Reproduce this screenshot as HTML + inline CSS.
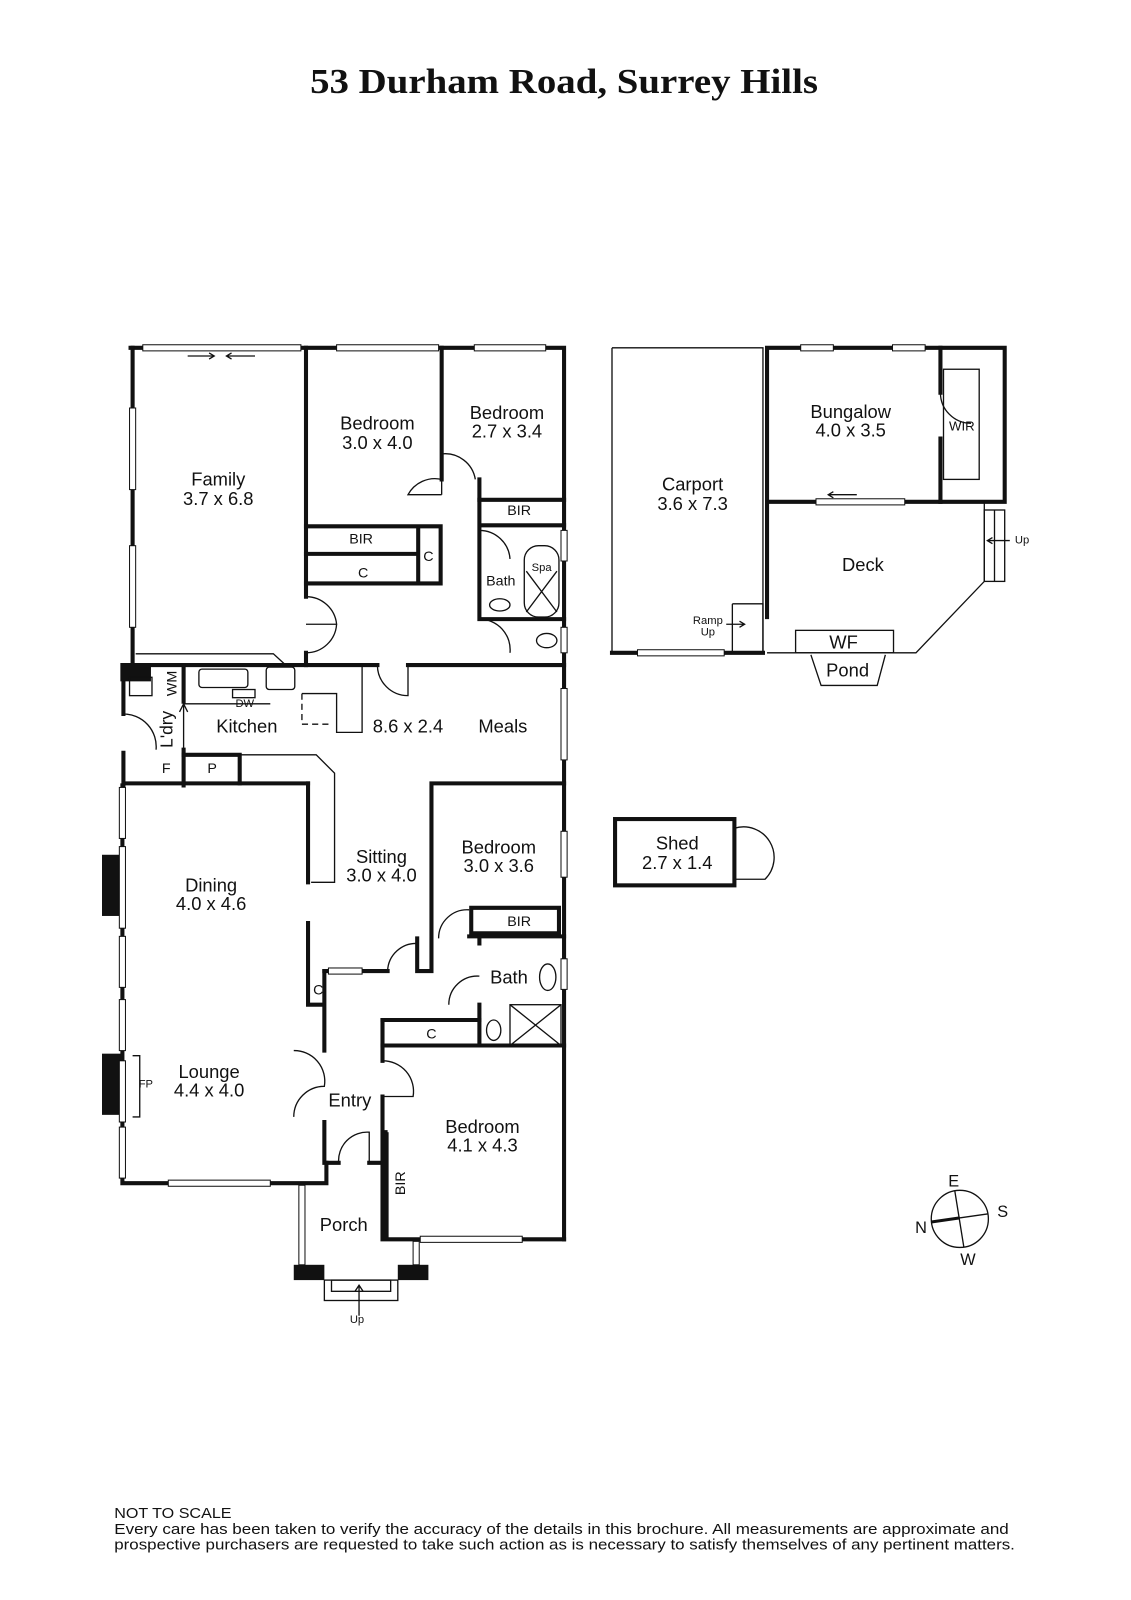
<!DOCTYPE html>
<html><head><meta charset="utf-8"><style>
html,body{margin:0;padding:0;background:#fff}
svg{display:block}
.t{font-family:"Liberation Sans",sans-serif;fill:#111;text-anchor:middle}
</style></head><body>
<svg width="1131" height="1600" viewBox="0 0 1131 1600" xmlns="http://www.w3.org/2000/svg">
<rect width="1131" height="1600" fill="#fff"/>
<g transform="scale(1.02)">
<text x="553" y="91" font-family="Liberation Serif,serif" font-weight="bold" font-size="34" text-anchor="middle" fill="#111" textLength="498" lengthAdjust="spacingAndGlyphs">53 Durham Road, Surrey Hills</text>

<g fill="none" stroke="#111" stroke-width="4" stroke-linecap="square">
<path d="M128,341 H553 V1215"/>
<path d="M130,341 V650"/>
<path d="M121,652 V700 M121,738 V770 M121,768 H302"/>
<path d="M148,652 H370 M400,652 H553"/>
<path d="M300,341 V585 M300,640 V652"/>
<path d="M433,341 V470"/>
<path d="M470,470 V607 H553 M470,515 H553"/>
<path d="M470,490 H553"/>
<path d="M300,516 H432 V572 H300 M300,543 H410 M410,516 V572"/>
<path d="M180,652 V688 M180,735 V770"/>
<path d="M180,740 H235 V768"/>
<path d="M302,768 V865 M302,905 V985 H318 M318,952 V1030 M318,1100 V1140 H332 M362,1140 H375"/>
<path d="M120,770 V1160 H320 V1140"/>
<path d="M423,768 H553 M423,768 V952 H409 V920"/>
<path d="M318,952 H380"/>
<path d="M460,918 H553 M462,890 H548 V915 H462 Z"/>
<path d="M470,918 V925 M470,985 V1025"/>
<path d="M375,1025 H553 M375,1000 H470"/>
<path d="M375,1000 V1040 M375,1075 V1215 H553"/>
<path d="M378,1110 V1210"/>
<path d="M752,341 H985 V492 H752 Z"/>
<path d="M752,492 V605"/>
<path d="M922,341 V385 M922,430 V492"/>
<path d="M600,640 H748"/>
</g>
<g fill="#111">
<rect x="118" y="650" width="30" height="18"/>
<rect x="100" y="838" width="20" height="60"/>
<rect x="100" y="1033" width="20" height="60"/>
<rect x="288" y="1240" width="30" height="15"/>
<rect x="390" y="1240" width="30" height="15"/>
<rect x="375" y="1110" width="6" height="105"/>
</g>
<g fill="#fff" stroke="#111" stroke-width="1">
<rect x="140" y="338" width="155" height="6"/>
<rect x="330" y="338" width="100" height="6"/>
<rect x="465" y="338" width="70" height="6"/>
<rect x="127" y="400" width="6" height="80"/>
<rect x="127" y="535" width="6" height="80"/>
<rect x="550" y="520" width="6" height="30"/>
<rect x="550" y="615" width="6" height="25"/>
<rect x="550" y="675" width="6" height="70"/>
<rect x="550" y="815" width="6" height="45"/>
<rect x="550" y="940" width="6" height="30"/>
<rect x="117" y="772" width="6" height="50"/>
<rect x="117" y="830" width="6" height="80"/>
<rect x="117" y="918" width="6" height="50"/>
<rect x="117" y="980" width="6" height="50"/>
<rect x="117" y="1040" width="6" height="60"/>
<rect x="117" y="1105" width="6" height="50"/>
<rect x="165" y="1157" width="100" height="6"/>
<rect x="412" y="1212" width="100" height="6"/>
<rect x="322" y="949" width="33" height="6"/>
<rect x="625" y="637" width="85" height="6"/>
<rect x="785" y="338" width="32" height="6"/>
<rect x="875" y="338" width="32" height="6"/>
<rect x="800" y="489" width="87" height="6"/>
<rect x="293" y="1162" width="6" height="78"/>
<rect x="405" y="1217" width="6" height="23"/>
</g>
<g fill="none" stroke="#111" stroke-width="1.3">
<path d="M133,641 H268 L280,652"/>
<path d="M600,341 H748 V640 M600,341 V640"/>
<path d="M718,592 H748 V640 M718,592 V640"/>
<path d="M752,640 H898 L965,570 V492"/>
<rect x="965" y="500" width="20" height="70"/>
<path d="M975,500 V570"/>
<rect x="780" y="618" width="96" height="22"/>
<path d="M795,642 L805,672 H860 L868,642"/>
<rect x="925" y="362" width="35" height="108"/>
<path d="M236,740 H310 L328,758 V865 H305"/>
<path d="M265,652 H355 V718 H330 V680 H296"/>
<path d="M296,680 V710 H326" stroke-dasharray="6,4"/>
<path d="M180,690 H265"/>
<rect x="195" y="656" width="48" height="18" rx="3"/>
<rect x="261" y="654" width="28" height="22" rx="3"/>
<rect x="228" y="676" width="22" height="8"/>
<rect x="127" y="664" width="22" height="18"/>
<rect x="514" y="535" width="34" height="70" rx="14"/>
<path d="M516,560 L546,600 M546,560 L516,600"/>
<ellipse cx="490" cy="593" rx="10" ry="6"/>
<ellipse cx="536" cy="628" rx="10" ry="7"/>
<ellipse cx="537" cy="958" rx="8" ry="13"/>
<ellipse cx="484" cy="1010" rx="7" ry="10"/>
<rect x="500" y="985" width="50" height="40"/>
<path d="M500,985 L550,1025 M550,985 L500,1025"/>
<rect x="318" y="1255" width="72" height="20"/>
<rect x="325" y="1255" width="58" height="11"/>
<path d="M352,1290 V1260 M348,1266 L352,1260 L356,1266"/>
<path d="M130,1035 H137 V1095 H130"/>
<path d="M300,585 A30,30 0 0 1 330,612 L300,612 M300,640 A30,30 0 0 0 330,612"/>
<path d="M370,652 A30,30 0 0 0 400,682 V652"/>
<path d="M433,485 V445 A30,30 0 0 1 466,470 M433,485 H400 A30,30 0 0 1 433,470"/>
<path d="M470,607 A30,30 0 0 1 500,640 M470,520 A30,30 0 0 1 500,548"/>
<path d="M121,700 A32,32 0 0 1 153,735"/>
<path d="M922,385 A30,30 0 0 0 952,415"/>
<path d="M380,952 A28,28 0 0 1 410,925"/>
<path d="M430,920 A28,28 0 0 1 460,892"/>
<path d="M440,985 A28,28 0 0 1 470,957"/>
<path d="M288,1030 A30,30 0 0 1 318,1065 A30,30 0 0 0 288,1095"/>
<path d="M375,1040 A30,30 0 0 1 405,1075 H375"/>
<path d="M332,1140 A28,28 0 0 1 362,1110 V1140"/>
<path d="M720,812 A30,30 0 0 1 750,862 H720"/>
<path d="M180,735 V690 M176,698 L180,690 L184,698"/>
<path d="M184,349 H210 M205,346 L210,349 L205,352 M250,349 H222 M227,346 L222,349 L227,352"/>
<path d="M840,485 H812 M817,482 L812,485 L817,488"/>
<path d="M712,612 L730,612 M725,609 L730,612 L725,615"/>
<path d="M990,530 H968 M973,527 L968,530 L973,533"/>
<circle cx="941" cy="1195" r="28"/>
<path d="M936,1167 L945,1223 M913,1198 L969,1190"/>
</g>
<rect x="603" y="803" width="117" height="65" fill="none" stroke="#111" stroke-width="4"/>
<path d="M913,1198 L941,1194" stroke="#111" stroke-width="3"/>

<g class="t" font-size="18">
<text x="214" y="476">Family</text><text x="214" y="495">3.7 x 6.8</text>
<text x="370" y="421">Bedroom</text><text x="370" y="440">3.0 x 4.0</text>
<text x="497" y="411">Bedroom</text><text x="497" y="429">2.7 x 3.4</text>
<text x="242" y="718">Kitchen</text>
<text x="400" y="718">8.6 x 2.4</text>
<text x="493" y="718">Meals</text>
<text x="374" y="846">Sitting</text><text x="374" y="864">3.0 x 4.0</text>
<text x="207" y="874">Dining</text><text x="207" y="892">4.0 x 4.6</text>
<text x="489" y="837">Bedroom</text><text x="489" y="855">3.0 x 3.6</text>
<text x="499" y="964">Bath</text>
<text x="205" y="1057">Lounge</text><text x="205" y="1075">4.4 x 4.0</text>
<text x="343" y="1085">Entry</text>
<text x="473" y="1111">Bedroom</text><text x="473" y="1129">4.1 x 4.3</text>
<text x="337" y="1207">Porch</text>
<text x="679" y="481">Carport</text><text x="679" y="500">3.6 x 7.3</text>
<text x="834" y="410">Bungalow</text><text x="834" y="428">4.0 x 3.5</text>
<text x="846" y="560">Deck</text>
<text x="827" y="636">WF</text>
<text x="831" y="663">Pond</text>
<text x="664" y="833">Shed</text><text x="664" y="852">2.7 x 1.4</text>
<text x="935" y="1163" font-size="16">E</text>
<text x="983" y="1193" font-size="16">S</text>
<text x="903" y="1209" font-size="16">N</text>
<text x="949" y="1240" font-size="16">W</text>
</g>
<g class="t" font-size="14">
<text x="354" y="533">BIR</text>
<text x="356" y="566">C</text>
<text x="420" y="550">C</text>
<text x="509" y="505">BIR</text>
<text x="491" y="574">Bath</text>
<text x="509" y="908">BIR</text>
<text x="423" y="1018">C</text>
<text x="312" y="975">C</text>
<text x="208" y="758">P</text>
<text x="163" y="758">F</text>
<text x="943" y="422" font-size="13">WIR</text>
</g>
<g class="t" font-size="11">
<text x="531" y="560">Spa</text>
<text x="240" y="693">DW</text>
<text x="143" y="1066">FP</text>
<text x="694" y="612">Ramp</text><text x="694" y="623">Up</text>
<text x="1002" y="533">Up</text>
<text x="350" y="1297">Up</text>
</g>
<text class="t" font-size="14" transform="translate(168,670) rotate(-90)" x="0" y="5">WM</text>
<text class="t" font-size="17" transform="translate(163,715) rotate(-90)" x="0" y="6">L'dry</text>
<text class="t" font-size="14" transform="translate(392,1160) rotate(-90)" x="0" y="5">BIR</text>

<g font-family="Liberation Sans,sans-serif" font-size="14.5" fill="#111">
<text x="112" y="1488" textLength="115" lengthAdjust="spacingAndGlyphs">NOT TO SCALE</text>
<text x="112" y="1504" textLength="877" lengthAdjust="spacingAndGlyphs">Every care has been taken to verify the accuracy of the details in this brochure. All measurements are approximate and</text>
<text x="112" y="1519" textLength="883" lengthAdjust="spacingAndGlyphs">prospective purchasers are requested to take such action as is necessary to satisfy themselves of any pertinent matters.</text>
</g>
</g>
</svg>
</body></html>
